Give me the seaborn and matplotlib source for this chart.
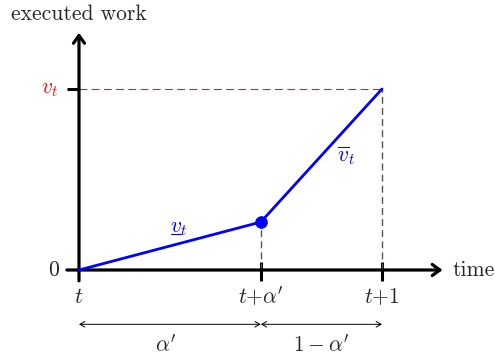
import numpy as np
import pandas as pd
import matplotlib
matplotlib.use("Agg")
import matplotlib.pyplot as plt
import seaborn as sns

# data: executed work over one time step
times = [0.0, 0.6, 1.0]
work = [0.0, 0.265, 1.0]
tick_pos = [0.0, 0.6, 1.0]
tick_labels = ["$t$", "$t{+}\\alpha'$", "$t{+}1$"]
vt_level = 1.0

sns.set_style("white")
plt.rcParams["font.family"] = "serif"
plt.rcParams["font.serif"] = ["cmr10"]
plt.rcParams["mathtext.fontset"] = "cm"
plt.rcParams["axes.formatter.use_mathtext"] = True
plt.rcParams["axes.unicode_minus"] = False

fig = plt.figure(figsize=(4.95, 3.59), dpi=100)
ax = fig.add_axes([0, 0, 1, 1])

fs = 15.5

# axes with arrows
ax.annotate("", xy=(1.20, 0), xytext=(-0.04, 0),
            arrowprops=dict(arrowstyle="->,head_length=0.55,head_width=0.4", lw=2.3, color="black",
                            shrinkA=0, shrinkB=0))
ax.annotate("", xy=(0, 1.31), xytext=(0, -0.06),
            arrowprops=dict(arrowstyle="->,head_length=0.55,head_width=0.4", lw=2.3, color="black",
                            shrinkA=0, shrinkB=0))

# ticks
for x in tick_pos[1:]:
    ax.plot([x, x], [-0.06, 0.045], color="black", lw=2.2, solid_capstyle="butt")
ax.plot([-0.04, 0], [vt_level, vt_level], color="black", lw=2.2, solid_capstyle="butt")

# guide lines
ax.plot([0, tick_pos[2]], [vt_level, vt_level], color="#d42020", lw=0.8, ls=(0, (7, 4)))
ax.plot([times[1], times[1]], [0, work[1]], color="#555555", lw=1.0, ls=(0, (5, 3)))
ax.plot([times[2], times[2]], [0, work[2]], color="#555555", lw=1.0, ls=(0, (5, 3)))

# executed work curve
df = pd.DataFrame({"time": times, "work": work})
sns.lineplot(data=df, x="time", y="work", ax=ax, color="blue", lw=2.0, zorder=5)
sns.scatterplot(x=[times[1]], y=[work[1]], ax=ax, color="blue", s=70, edgecolor="blue", zorder=6)
ax.set_xlim(-0.2607, 1.373)
ax.set_ylim(-0.4917, 1.4917)
ax.axis("off")

# labels
ax.text(0, 1.414, "executed work", ha="center", va="center", fontsize=fs)
ax.text(1.234, 0, "time", ha="left", va="center", fontsize=fs)
ax.text(-0.063, 0, "$0$", ha="right", va="center", fontsize=fs)
ax.text(-0.069, vt_level, "$v_t$", ha="right", va="center", fontsize=fs, color="red")
for x, lab in zip(tick_pos, tick_labels):
    ax.text(x, -0.149, lab, ha="center", va="center", fontsize=fs)
ax.text(0.302, 0.232, "$v_t$", ha="left", va="center", fontsize=fs, color="blue")
ax.plot([0.304, 0.337], [0.199, 0.199], color="blue", lw=0.8)
ax.text(0.853, 0.635, "$\\overline{v}_t$", ha="left", va="center", fontsize=fs, color="blue")

# interval brackets
yb = -0.3
for a, b in [(tick_pos[0], tick_pos[1]), (tick_pos[1], tick_pos[2])]:
    ax.annotate("", xy=(b, yb), xytext=(a, yb),
                arrowprops=dict(arrowstyle="<->,head_length=0.35,head_width=0.2", lw=0.7,
                                color="black", shrinkA=0, shrinkB=0))
ax.text(0.285, -0.414, "$\\alpha'$", ha="center", va="center", fontsize=fs)
ax.text(0.8, -0.414, "$1-\\alpha'$", ha="center", va="center", fontsize=fs)

fig.savefig("out.png", dpi=100)
